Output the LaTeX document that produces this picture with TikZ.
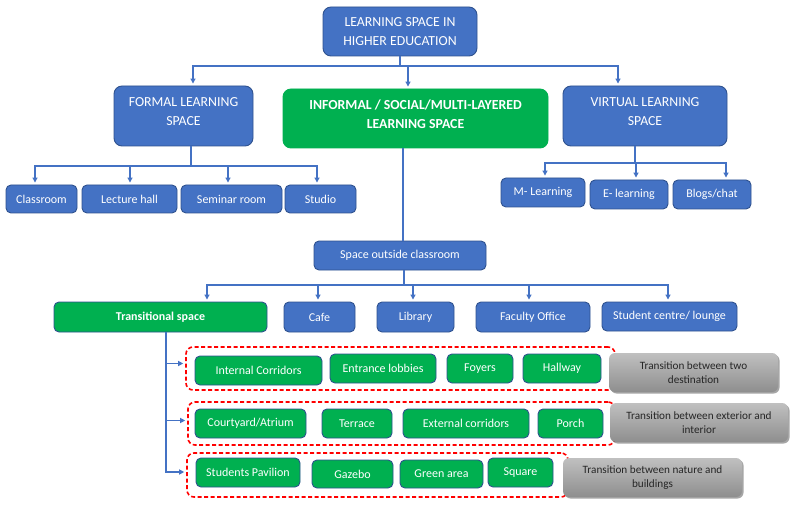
\documentclass[tikz,border=0pt]{standalone}
\usepackage{fontspec}
\setmainfont{Carlito}
\usetikzlibrary{arrows.meta,shadows}
\definecolor{bfill}{HTML}{4472C4}
\definecolor{bdraw}{HTML}{2F528F}
\definecolor{gfill}{HTML}{00B050}
\definecolor{conn}{HTML}{4472C4}
\definecolor{gtop}{HTML}{C0C0C0}
\definecolor{gbot}{HTML}{8E8E8E}
\definecolor{gtxt}{HTML}{262626}
\tikzset{
  boxbase/.style={draw=bdraw, line width=0.9pt, text=white, inner sep=0pt, align=center},
  bigblue/.style={boxbase, fill=bfill, rounded corners=8pt, font=\fontsize{13.8}{18.5}\selectfont},
  biggreen/.style={boxbase, fill=gfill, draw=gfill, rounded corners=8pt, font=\fontsize{13.8}{18.5}\selectfont\bfseries},
  smallblue/.style={boxbase, fill=bfill, rounded corners=5pt, font=\fontsize{12}{14}\selectfont},
  smallgreen/.style={boxbase, fill=gfill, rounded corners=5pt, font=\fontsize{12}{14}\selectfont},
  transbox/.style={boxbase, fill=gfill, rounded corners=5pt, font=\fontsize{12}{14}\selectfont\bfseries},
  graybox/.style={inner sep=0pt, align=center, rounded corners=6pt, top color=gtop, bottom color=gbot,
     text=gtxt, font=\fontsize{11.2}{14}\selectfont,
     drop shadow={shadow xshift=1.5pt, shadow yshift=-1.5pt, opacity=0.35, fill=black}},
  redgroup/.style={draw=red, line width=1.6pt, dash pattern=on 4pt off 2.5pt, rounded corners=7pt, inner sep=0pt},
  cline/.style={draw=conn, line width=1.1pt},
  carr/.style={cline, -{Triangle[length=5pt,width=5pt]}, shorten >=2pt},
  bigtext/.style={text=white, align=center, inner sep=0pt, font=\fontsize{13.8}{18.5}\selectfont},
}
\begin{document}
\begin{tikzpicture}[x=1pt,y=-1pt]
\useasboundingbox (0,0) rectangle (795,505);
\fill[white] (0,0) rectangle (795,505);

% red dashed groups (behind)
\node[redgroup, minimum width=429pt, minimum height=43pt] (red1) at (400.5,368.5) {};
\node[redgroup, minimum width=427pt, minimum height=43pt] (red2) at (401.5,423.5) {};
\node[redgroup, minimum width=381pt, minimum height=44pt] (red3) at (377.5,475) {};

% top levels
\node[bigblue, minimum width=154pt, minimum height=49pt] (top) at (400,31.5) {LEARNING SPACE IN\\HIGHER EDUCATION};
\node[bigblue, minimum width=139pt, minimum height=60pt] (formal) at (183.5,116) {};
\node[bigtext] (formaltxt) at (183.5,111.5) {FORMAL LEARNING\\SPACE};
\node[biggreen, minimum width=265pt, minimum height=59pt] (informal) at (415.5,118.5) {};
\node[bigtext, font=\fontsize{13.8}{18.5}\selectfont\bfseries] (informaltxt) at (415.5,114) {INFORMAL / SOCIAL/MULTI-LAYERED\\LEARNING SPACE};
\node[bigblue, minimum width=164pt, minimum height=60pt] (virtual) at (645,116) {};
\node[bigtext] (virtualtxt) at (645,111.5) {VIRTUAL LEARNING\\SPACE};

% formal children
\node[smallblue, minimum width=71pt, minimum height=28pt] (class) at (41.5,199) {Classroom};
\node[smallblue, minimum width=95pt, minimum height=28pt] (lecture) at (129.5,199) {Lecture hall};
\node[smallblue, minimum width=101pt, minimum height=28pt] (seminar) at (231.5,199) {Seminar room};
\node[smallblue, minimum width=71pt, minimum height=28pt] (studio) at (320.5,199) {Studio};

% virtual children
\node[smallblue, minimum width=84pt, minimum height=29pt] (mlearn) at (543,192.5) {M- Learning};
\node[smallblue, minimum width=78pt, minimum height=29pt] (elearn) at (629,194.5) {E- learning};
\node[smallblue, minimum width=78pt, minimum height=29pt] (blogs) at (712,194.5) {Blogs/chat};

% space outside classroom
\node[smallblue, minimum width=172pt, minimum height=29pt] (space) at (400,255.5) {Space outside classroom};
\node[transbox, minimum width=213pt, minimum height=30pt] (trans) at (160.5,317) {Transitional space};
\node[smallblue, minimum width=71pt, minimum height=30pt] (cafe) at (319.5,317) {Cafe};
\node[smallblue, minimum width=77pt, minimum height=30pt] (library) at (415.5,317) {Library};
\node[smallblue, minimum width=114pt, minimum height=30pt] (faculty) at (533,317) {Faculty Office};
\node[smallblue, minimum width=135pt, minimum height=29pt] (student) at (669.5,316.5) {Student centre/ lounge};

% row 1
\node[smallgreen, minimum width=127pt, minimum height=29pt] (internal) at (258.5,370.5) {Internal Corridors};
\node[smallgreen, minimum width=106pt, minimum height=29pt] (entrance) at (383,368.5) {Entrance lobbies};
\node[smallgreen, minimum width=66pt, minimum height=29pt] (foyers) at (480,368.5) {Foyers};
\node[smallgreen, minimum width=78pt, minimum height=29pt] (hallway) at (562,368.5) {Hallway};
% row 2
\node[smallgreen, minimum width=111pt, minimum height=29pt] (courtyard) at (250.5,423.5) {Courtyard/Atrium};
\node[smallgreen, minimum width=70pt, minimum height=29pt] (terrace) at (357,423.5) {Terrace};
\node[smallgreen, minimum width=126pt, minimum height=29pt] (external) at (466,423.5) {External corridors};
\node[smallgreen, minimum width=65pt, minimum height=29pt] (porch) at (570.5,423.5) {Porch};
% row 3
\node[smallgreen, minimum width=104pt, minimum height=29pt] (pavilion) at (248,472.5) {Students Pavilion};
\node[smallgreen, minimum width=81pt, minimum height=28pt] (gazebo) at (352.5,474) {Gazebo};
\node[smallgreen, minimum width=83pt, minimum height=28pt] (greenarea) at (441.5,474) {Green area};
\node[smallgreen, minimum width=65pt, minimum height=29pt] (square) at (520.5,472.5) {Square};

% gray notes
\node[graybox, minimum width=169pt, minimum height=39pt] (note1) at (693.5,372.5) {Transition between two\\destination};
\node[graybox, minimum width=178pt, minimum height=39pt] (note2) at (699,422.5) {Transition between exterior and\\interior};
\node[graybox, minimum width=179pt, minimum height=39pt] (note3) at (652.5,477.5) {Transition between nature and\\buildings};

% connectors: top
\coordinate (tb) at (400,66);
\draw[cline] (top.south) -- (tb);
\draw[carr] (tb) -| ([xshift=9.5pt]formal.north);
\draw[carr] (tb) -| ([xshift=-7.5pt]informal.north);
\draw[carr] (tb) -| ([xshift=-27pt]virtual.north);

% formal children
\coordinate (fb) at (191,166);
\draw[cline] (formal.south -| fb) -- (fb);
\draw[carr] (fb) -| ([xshift=-6.5pt]class.north);
\draw[carr] (fb) -| ([xshift=0.5pt]lecture.north);
\draw[carr] (fb) -| ([xshift=-3.5pt]seminar.north);
\draw[carr] (fb) -| ([xshift=-3.5pt]studio.north);

% virtual children
\coordinate (vb) at (635,163);
\draw[cline] (virtual.south -| vb) -- (vb);
\draw[carr] (vb) -| ([xshift=2pt]mlearn.north);
\draw[carr] (vb) -| ([xshift=7pt]elearn.north);
\draw[carr] (vb) -| ([xshift=14pt]blogs.north);

% informal to space
\draw[cline] ([xshift=-12.5pt]informal.south) -- ([xshift=-12.5pt]informal.south |- space.north);

% space children
\coordinate (sb) at (404,285);
\draw[cline] (space.south -| sb) -- (sb);
\draw[carr] (sb) -| ([xshift=46.5pt]trans.north);
\draw[carr] (sb) -| ([xshift=-1.5pt]cafe.north);
\draw[carr] (sb) -| ([xshift=-2.5pt]library.north);
\draw[carr] (sb) -| ([xshift=-4pt]faculty.north);
\draw[carr] (sb) -| ([xshift=-1.5pt]student.north);

% transitional branches
\draw[carr] ([xshift=5.5pt]trans.south) |- ([yshift=5pt]red1.west);
\draw[carr] ([xshift=5.5pt]trans.south) |- ([yshift=3pt]red2.west);
\draw[carr] ([xshift=5.5pt]trans.south) |- ([yshift=3pt]red3.west);
\end{tikzpicture}
\end{document}
